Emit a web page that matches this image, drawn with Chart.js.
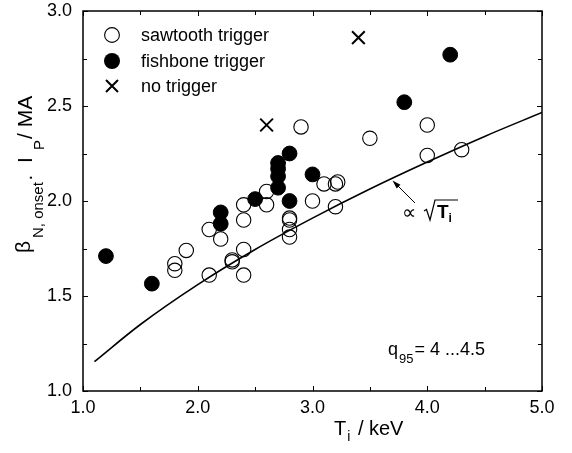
<!DOCTYPE html>
<html>
<head>
<meta charset="utf-8">
<script src="https://cdn.jsdelivr.net/npm/chart.js@4.4.1/dist/chart.umd.min.js"></script>
<style>
    html, body { margin: 0; padding: 0; background: #fff; }
    #chart { display: block; }
</style>
</head>
<body>
<canvas id="chart" width="572" height="453"></canvas>
<script>
// values
const sawT    = [1.8, 1.8, 1.9, 2.1, 2.1, 2.2, 2.3, 2.3, 2.4, 2.4, 2.4, 2.4, 2.6, 2.6, 2.8, 2.8, 2.8, 2.8, 2.9, 3.0, 3.1, 3.2, 3.22, 3.2, 3.5, 4.0, 4.0, 4.3];
const sawBeta = [1.67, 1.635, 1.74, 1.85, 1.61, 1.80, 1.69, 1.68, 1.98, 1.90, 1.745, 1.61, 2.05, 1.98, 1.91, 1.90, 1.85, 1.81, 2.39, 2.0, 2.09, 2.09, 2.10, 1.97, 2.33, 2.40, 2.24, 2.27];

const fishT    = [1.2, 1.6, 2.2, 2.2, 2.5, 2.7, 2.7, 2.7, 2.7, 2.8, 2.8, 3.0, 3.8, 4.2];
const fishBeta = [1.71, 1.565, 1.94, 1.88, 2.01, 2.20, 2.17, 2.13, 2.07, 2.25, 2.0, 2.14, 2.52, 2.77];

const noT    = [2.6, 3.4];
const noBeta = [2.40, 2.86];

// the sqrt(Ti) fit curve, read at a few temperatures
const fitT    = [1.1, 1.5, 2.0, 2.5, 3.0, 3.5, 4.0, 4.5, 5.0];
const fitBeta = [1.155, 1.35, 1.56, 1.745, 1.91, 2.063, 2.205, 2.34, 2.466];

const xTicks = [1, 2, 3, 4, 5];
const xMinor = [1.5, 2.5, 3.5, 4.5];
const yTicks = [1, 1.5, 2, 2.5, 3];
const yMinor = [1.25, 1.75, 2.25, 2.75];

const legendItems = ['sawtooth trigger', 'fishbone trigger', 'no trigger'];

const FONT = '"Liberation Sans", Arial, Helvetica, sans-serif';

const pts = (xs, ys) => xs.map((x, i) => ({ x, y: ys[i] }));

function text(ctx, str, x, y, size, bold) {
    ctx.font = (bold ? 'bold ' : '') + size + 'px ' + FONT;
    ctx.fillText(str, x, y);
    return x + ctx.measureText(str).width;
}

const framePlugin = {
    id: 'frame',
    afterDraw(chart) {
        const { ctx, chartArea: a, scales: { x, y } } = chart;
        ctx.save();
        ctx.strokeStyle = '#000';
        ctx.fillStyle = '#000';
        ctx.lineWidth = 1.5;
        ctx.strokeRect(a.left, a.top, a.right - a.left, a.bottom - a.top);

        // inward ticks on all four sides
        ctx.lineWidth = 1;
        ctx.beginPath();
        const xt = (v, len) => {
            const px = Math.round(x.getPixelForValue(v)) + 0.5;
            ctx.moveTo(px, a.bottom); ctx.lineTo(px, a.bottom - len);
            ctx.moveTo(px, a.top); ctx.lineTo(px, a.top + len);
        };
        const yt = (v, len) => {
            const py = Math.round(y.getPixelForValue(v)) + 0.5;
            ctx.moveTo(a.left, py); ctx.lineTo(a.left + len, py);
            ctx.moveTo(a.right, py); ctx.lineTo(a.right - len, py);
        };
        xTicks.forEach(v => xt(v, 5));
        xMinor.forEach(v => xt(v, 4));
        yTicks.forEach(v => yt(v, 5));
        yMinor.forEach(v => yt(v, 4));
        ctx.stroke();

        // legend
        ctx.textBaseline = 'alphabetic';
        ctx.textAlign = 'left';
        const lx = 112, ly = [35, 61, 86];
        ctx.lineWidth = 1.1;
        ctx.beginPath(); ctx.arc(lx, ly[0], 7.4, 0, Math.PI * 2); ctx.stroke();
        ctx.beginPath(); ctx.arc(lx, ly[1], 8, 0, Math.PI * 2); ctx.fill();
        ctx.lineWidth = 2;
        ctx.beginPath();
        ctx.moveTo(lx - 6, ly[2] - 6); ctx.lineTo(lx + 6, ly[2] + 6);
        ctx.moveTo(lx + 6, ly[2] - 6); ctx.lineTo(lx - 6, ly[2] + 6);
        ctx.stroke();
        legendItems.forEach((t, i) => text(ctx, t, 141, ly[i] + 6, 18));

        // x title
        let cx = text(ctx, 'T', 334, 435, 20);
        cx = text(ctx, 'i', cx + 1, 441, 14);
        text(ctx, ' / keV', cx + 2, 435, 20);

        // y title, rotated
        ctx.save();
        ctx.rotate(-Math.PI / 2);
        text(ctx, 'β', -253, 30, 21);
        text(ctx, 'N, onset', -238, 43, 15);
        text(ctx, '·', -181, 36, 20);
        text(ctx, 'I', -163, 32, 21);
        text(ctx, 'P', -150, 44, 15);
        text(ctx, '/ MA', -139, 32, 21);
        ctx.restore();

        // q95 note
        cx = text(ctx, 'q', 388, 355, 18);
        cx = text(ctx, '95', cx + 1, 363, 13);
        text(ctx, '= 4 ...4.5', cx + 1, 355, 18);

        // proportional-to-sqrt(Ti) label with arrow
        text(ctx, '∝', 402, 219, 20);
        ctx.lineWidth = 1.2;
        ctx.beginPath();
        ctx.moveTo(424, 211); ctx.lineTo(426.5, 209.5); ctx.lineTo(430, 220);
        ctx.lineTo(435, 200); ctx.lineTo(458, 200);
        ctx.stroke();
        cx = text(ctx, 'T', 437, 218, 19, true);
        text(ctx, 'i', cx, 222, 12, true);

        ctx.lineWidth = 1;
        ctx.beginPath();
        ctx.moveTo(415, 203); ctx.lineTo(395, 183);
        ctx.stroke();
        const ang = Math.atan2(183 - 203, 395 - 415);
        ctx.beginPath();
        ctx.moveTo(392.5, 180.5);
        ctx.lineTo(392.5 - 9 * Math.cos(ang - 0.3), 180.5 - 9 * Math.sin(ang - 0.3));
        ctx.lineTo(392.5 - 9 * Math.cos(ang + 0.3), 180.5 - 9 * Math.sin(ang + 0.3));
        ctx.closePath();
        ctx.fill();

        ctx.restore();
    }
};

const tickFont = { family: FONT, size: 18 };

new Chart(document.getElementById('chart'), {
    type: 'scatter',
    data: {
        datasets: [
            {
                label: 'fishbone trigger',
                data: pts(fishT, fishBeta),
                pointStyle: 'circle',
                pointRadius: 7.4,
                backgroundColor: '#000',
                borderColor: '#000',
                borderWidth: 1,
                order: 0
            },
            {
                label: 'no trigger',
                data: pts(noT, noBeta),
                pointStyle: 'crossRot',
                pointRadius: 9,
                borderColor: '#000',
                borderWidth: 2,
                order: 1
            },
            {
                label: 'sawtooth trigger',
                data: pts(sawT, sawBeta),
                pointStyle: 'circle',
                pointRadius: 7.2,
                backgroundColor: 'rgba(0,0,0,0)',
                borderColor: '#000',
                borderWidth: 1.1,
                order: 2
            },
            {
                type: 'line',
                label: 'fit',
                data: pts(fitT, fitBeta),
                showLine: true,
                pointRadius: 0,
                borderColor: '#000',
                borderWidth: 1.6,
                cubicInterpolationMode: 'monotone',
                fill: false,
                order: 3
            }
        ]
    },
    options: {
        responsive: false,
        animation: false,
        events: [],
        layout: { padding: { top: 7, right: 30, left: 0, bottom: 0 } },
        plugins: { legend: { display: false }, tooltip: { enabled: false } },
        scales: {
            x: {
                type: 'linear',
                min: 1,
                max: 5,
                afterBuildTicks: s => { s.ticks = xTicks.map(v => ({ value: v })); },
                afterFit: s => { s.height = 62; s.paddingLeft = 0; s.paddingRight = 0; },
                grid: { display: false, drawTicks: false },
                border: { display: false },
                ticks: {
                    padding: 6,
                    color: '#000',
                    font: tickFont,
                    maxRotation: 0,
                    autoSkip: false,
                    callback: v => Number(v).toFixed(1)
                }
            },
            y: {
                type: 'linear',
                min: 1,
                max: 3,
                afterBuildTicks: s => { s.ticks = yTicks.map(v => ({ value: v })); },
                afterFit: s => { s.width = 83; s.paddingTop = 0; s.paddingBottom = 0; },
                grid: { display: false, drawTicks: false },
                border: { display: false },
                ticks: {
                    padding: 11,
                    color: '#000',
                    font: tickFont,
                    autoSkip: false,
                    callback: v => Number(v).toFixed(1)
                }
            }
        }
    },
    plugins: [framePlugin]
});
</script>
</body>
</html>
